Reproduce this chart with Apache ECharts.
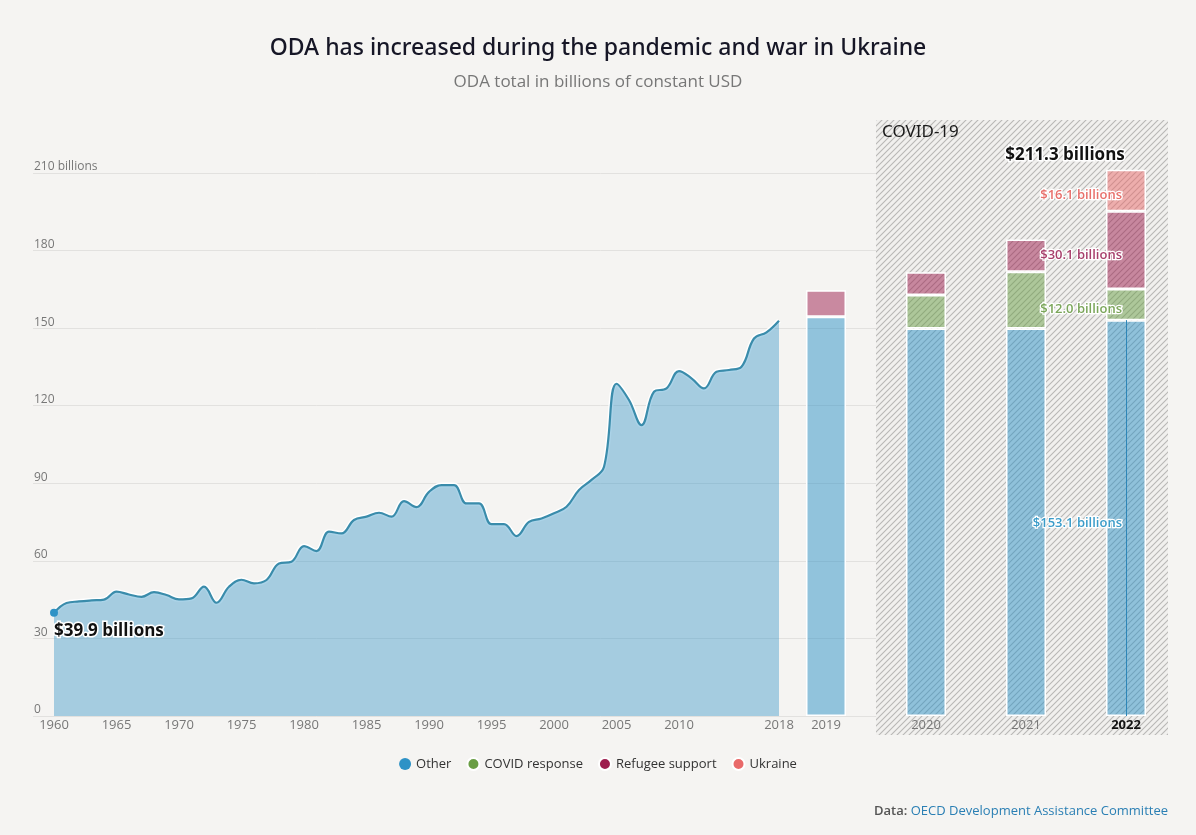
<!DOCTYPE html>
<html>
<head>
<meta charset="utf-8">
<script src="https://cdn.jsdelivr.net/npm/echarts@6/dist/echarts.min.js"></script>
<style>
html,body{margin:0;padding:0;background:#f5f4f2;}
#chart{width:1196px;height:835px;}
</style>
</head>
<body>
<div id="chart"></div>
<script>
// ---------- data ----------
const years = [1960,1961,1962,1963,1964,1965,1966,1967,1968,1969,1970,1971,1972,1973,1974,1975,1976,1977,1978,1979,
  1980,1981,1982,1983,1984,1985,1986,1987,1988,1989,1990,1991,1992,1993,1994,1995,1996,1997,1998,1999,
  2000,2001,2002,2003,2004,2005,2006,2007,2008,2009,2010,2011,2012,2013,2014,2015,2016,2017,2018];
const odaTotal = [39.9,43.7,44.3,44.7,45.0,48.1,47.0,46.1,47.9,46.8,45.1,45.5,50.0,43.8,50.0,52.7,51.3,52.6,59.0,59.7,
  65.7,63.8,71.3,70.6,75.8,77.1,78.6,77.1,83.1,80.8,86.7,89.3,89.3,82.2,82.2,74.2,74.2,69.6,75.1,76.4,
  78.4,80.9,87.4,91.3,96.4,128.5,122.2,112.5,125.4,126.7,133.4,130.6,126.7,133.1,133.8,135.1,146.0,148.4,152.9];
const xTickValues = [1960,1965,1970,1975,1980,1985,1990,1995,2000,2005,2010,2018];
const barYears = ['2019','2020','2021','2022'];
const otherVals   = [154.4,149.9,149.9,153.1];
const covidVals   = [null,12.9,21.9,12.0];
const refugeeVals = [10.3,8.8,12.5,30.1];
const ukraineVals = [null,null,null,16.1];
const yTicks = [0,30,60,90,120,150,180,210];
const seriesNames = ['Other','COVID response','Refugee support','Ukraine'];
const seriesColors = ['#2e92c6','#6a9e45','#9e1e4e','#e96a6a'];
const labelColors = ['#3b9cc9','#7ba65a','#a8406c','#e8706c'];

// ---------- helpers ----------
function rgba(hex, a){
  const n = parseInt(hex.slice(1),16);
  return 'rgba(' + ((n>>16)&255) + ',' + ((n>>8)&255) + ',' + (n&255) + ',' + a + ')';
}
const hatch = document.createElement('canvas');
hatch.width = 6; hatch.height = 6;
(function(){
  const c = hatch.getContext('2d');
  c.fillStyle = '#f1f0ee'; c.fillRect(0,0,6,6);
  c.strokeStyle = '#b8b7b5'; c.lineWidth = 1.1;
  c.beginPath();
  c.moveTo(-1,7); c.lineTo(7,-1);
  c.moveTo(-1,1); c.lineTo(1,-1);
  c.moveTo(5,7); c.lineTo(7,5);
  c.stroke();
})();

const lastIdx = barYears.length - 1;
const total2022 = [otherVals, covidVals, refugeeVals, ukraineVals].reduce((s, a) => s + (a[lastIdx] || 0), 0);

const font = 'Open Sans';
const GRID_TOP = 173, GRID_H = 543;
const PX_PER_UNIT = GRID_H / 210;
const BAR_MAX = 240; // extra headroom so the 2022 stack is not clipped
const BAR_TOP = GRID_TOP - (BAR_MAX - 210) * PX_PER_UNIT;

function barSeries(i, vals){
  return {
    name: seriesNames[i], type: 'bar', stack: 'bars',
    xAxisIndex: 2, yAxisIndex: 2, barWidth: 40, z: 3,
    data: vals,
    itemStyle: { color: rgba(seriesColors[i], 0.5), borderColor: '#ffffff', borderWidth: 1.5 },
    emphasis: { disabled: true },
    label: {
      show: true, position: [16, '50%'], align: 'right', verticalAlign: 'middle', offset: [0, 5],
      fontFamily: font, fontSize: 13, fontWeight: 600, color: labelColors[i],
      textBorderColor: '#ffffff', textBorderWidth: 2.5,
      formatter: p => (p.dataIndex === lastIdx && p.value != null) ? '$' + p.value.toFixed(1) + ' billions' : ''
    }
  };
}

const series = [
  {
    name: 'halo', type: 'line', xAxisIndex: 1, yAxisIndex: 1,
    data: years.map((y, i) => [y, odaTotal[i]]),
    smooth: 0.4, symbol: 'none', silent: true, z: 2,
    lineStyle: { color: '#ffffff', width: 5 }
  },
  {
    name: 'Other', type: 'line', xAxisIndex: 1, yAxisIndex: 1,
    data: years.map((y, i) => [y, odaTotal[i]]),
    smooth: 0.4, symbol: 'none', z: 3,
    lineStyle: { color: '#3a8cab', width: 2.2 },
    itemStyle: { color: '#2e92c6' },
    areaStyle: { color: rgba(seriesColors[0], 0.4), opacity: 1 },
    markPoint: {
      symbol: 'circle', symbolSize: 8,
      itemStyle: { color: '#2e92c6' },
      data: [{ coord: [years[0], odaTotal[0]] }],
      label: {
        show: true, position: [4, 14], align: 'left', verticalAlign: 'top',
        fontFamily: font, fontSize: 17, fontWeight: 700, color: '#111',
        textBorderColor: '#ffffff', textBorderWidth: 3,
        formatter: () => '$' + odaTotal[0].toFixed(1) + ' billions'
      }
    }
  },
  Object.assign(barSeries(0, otherVals), {
    markLine: {
      silent: true, symbol: 'none',
      lineStyle: { color: '#2e86b8', width: 1, type: 'solid' },
      label: { show: false },
      data: [[{ coord: [barYears[lastIdx], 0] }, { coord: [barYears[lastIdx], otherVals[lastIdx]] }]]
    }
  }),
  barSeries(1, covidVals),
  barSeries(2, refugeeVals),
  Object.assign(barSeries(3, ukraineVals), {
    markPoint: {
      symbol: 'circle', symbolSize: 1, itemStyle: { color: 'rgba(0,0,0,0)' },
      data: [{ coord: [barYears[lastIdx], total2022] }],
      label: {
        show: true, position: 'top', distance: 5, offset: [-61, 0],
        fontFamily: font, fontSize: 17, fontWeight: 700, color: '#111',
        textBorderColor: '#ffffff', textBorderWidth: 3,
        formatter: () => '$' + total2022.toFixed(1) + ' billions'
      }
    }
  })
];

const chart = echarts.init(document.getElementById('chart'), null, { renderer: 'canvas' });
chart.setOption({
  backgroundColor: '#f5f4f2',
  animation: false,
  textStyle: { fontFamily: font },
  title: [
    { text: 'ODA has increased during the pandemic and war in Ukraine', left: 'center', top: 32,
      textStyle: { fontFamily: 'Noto Sans', fontSize: 23, fontWeight: 500, color: '#161626' } },
    { text: 'ODA total in billions of constant USD', left: 'center', top: 69,
      textStyle: { fontFamily: font, fontSize: 17, fontWeight: 400, color: '#777' } },
    { text: '{a|Data: }{b|OECD Development Assistance Committee}', right: 23, top: 800,
      textStyle: { rich: {
        a: { fontFamily: font, fontSize: 13, fontWeight: 600, color: '#555' },
        b: { fontFamily: font, fontSize: 13, fontWeight: 400, color: '#2a7fb4' }
      } } }
  ],
  graphic: [
    { type: 'rect', left: 876, top: 120, z: 1, silent: true,
      shape: { width: 292, height: 615 },
      style: { fill: { image: hatch, repeat: 'repeat' } } },
    { type: 'text', left: 882, top: 124, z: 10, silent: true,
      style: { text: 'COVID-19', fontFamily: 'Noto Sans', fontSize: 17, fill: '#1a1a1a' } }
  ],
  legend: {
    bottom: 59, left: 'center', icon: 'circle', itemWidth: 12, itemHeight: 12, itemGap: 15,
    textStyle: { fontFamily: font, fontSize: 13, color: '#333' },
    data: seriesNames.map((n, i) => ({ name: n, itemStyle: { color: seriesColors[i] } }))
  },
  grid: [
    { left: 33, right: 28, top: GRID_TOP, height: GRID_H },
    { left: 54, width: 725, top: GRID_TOP, height: GRID_H },
    { left: 776, width: 400, top: BAR_TOP, height: GRID_H + (GRID_TOP - BAR_TOP) }
  ],
  xAxis: [
    { gridIndex: 0, type: 'value', min: 0, max: 1, show: false },
    { gridIndex: 1, type: 'value', min: years[0], max: years[years.length - 1],
      axisLine: { show: false }, axisTick: { show: false }, splitLine: { show: false },
      axisLabel: { customValues: xTickValues, margin: 3, color: '#777', fontSize: 13, fontFamily: font,
        formatter: v => String(v) } },
    { gridIndex: 2, type: 'category', data: barYears, z: 10,
      axisLine: { show: false }, axisTick: { show: false },
      axisLabel: { margin: 3, color: '#777', fontSize: 13, fontFamily: font,
        formatter: v => v === barYears[lastIdx] ? '{b|' + v + '}' : v,
        rich: { b: { fontWeight: 700, color: '#111', fontSize: 13, fontFamily: font } } } }
  ],
  yAxis: [
    { gridIndex: 0, type: 'value', min: yTicks[0], max: yTicks[yTicks.length - 1], interval: 30,
      axisLine: { show: false }, axisTick: { show: false },
      splitLine: { lineStyle: { color: '#e2e1df', width: 1 } },
      axisLabel: { inside: true, margin: 1, verticalAlign: 'bottom', padding: [0, 0, 0, 0],
        color: '#777', fontSize: 12, fontFamily: font,
        formatter: v => v === yTicks[yTicks.length - 1] ? v + ' billions' : String(v) } },
    { gridIndex: 1, type: 'value', min: yTicks[0], max: yTicks[yTicks.length - 1], show: false },
    { gridIndex: 2, type: 'value', min: yTicks[0], max: BAR_MAX, show: false }
  ],
  series: series
});
</script>
</body>
</html>
